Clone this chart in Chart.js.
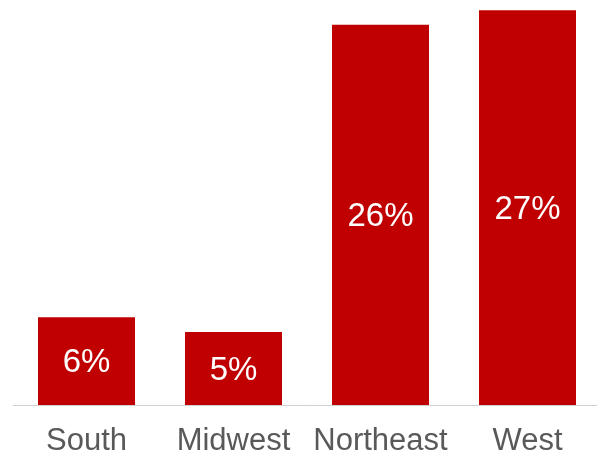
<!DOCTYPE html>
<html>
<head>
<meta charset="utf-8">
<script src="https://cdn.jsdelivr.net/npm/chart.js@4"></script>
<style>
  html, body { margin: 0; padding: 0; background: #fff; overflow: hidden; }
  #wrap { width: 604px; height: 457px; }
</style>
</head>
<body>
<div id="wrap"><canvas id="regionChart"></canvas></div>
<script>
// 지역별 비율 (%)
const regions = ['South', 'Midwest', 'Northeast', 'West'];
const shares = [6, 5, 26, 27];
const valueLabels = ['6%', '5%', '26%', '27%'];

const FONT = "'Liberation Sans', Arial, Helvetica, sans-serif";

// 막대 중앙에 값 라벨 그리기
const barLabels = {
    id: 'barLabels',
    afterDatasetsDraw(chart) {
        const ctx = chart.ctx;
        const meta = chart.getDatasetMeta(0);
        ctx.save();
        ctx.fillStyle = '#ffffff';
        ctx.font = '33px ' + FONT;
        ctx.textAlign = 'center';
        ctx.textBaseline = 'middle';
        meta.data.forEach((bar, i) => {
            const y = (bar.y + bar.base) / 2;
            ctx.fillText(valueLabels[i], bar.x, y + 2);
        });
        ctx.restore();
    }
};

new Chart(document.getElementById('regionChart'), {
    type: 'bar',
    data: {
        labels: regions,
        datasets: [{
            data: shares,
            backgroundColor: '#c00000',
            borderWidth: 0,
            barPercentage: 0.66,
            categoryPercentage: 1.0
        }]
    },
    options: {
        responsive: true,
        maintainAspectRatio: false,
        animation: false,
        layout: { padding: { left: 13, right: 3, top: 0, bottom: 0 } },
        plugins: {
            legend: { display: false },
            tooltip: { enabled: false }
        },
        scales: {
            x: {
                grid: { display: false, drawTicks: false },
                border: { display: true, color: '#d0d0d0', width: 1 },
                ticks: {
                    color: '#595959',
                    font: { family: FONT, size: 31 },
                    padding: 18
                },
                afterFit(scale) { scale.height = 52; }
            },
            y: {
                display: false,
                min: 0,
                max: 27.7
            }
        }
    },
    plugins: [barLabels]
});
</script>
</body>
</html>
